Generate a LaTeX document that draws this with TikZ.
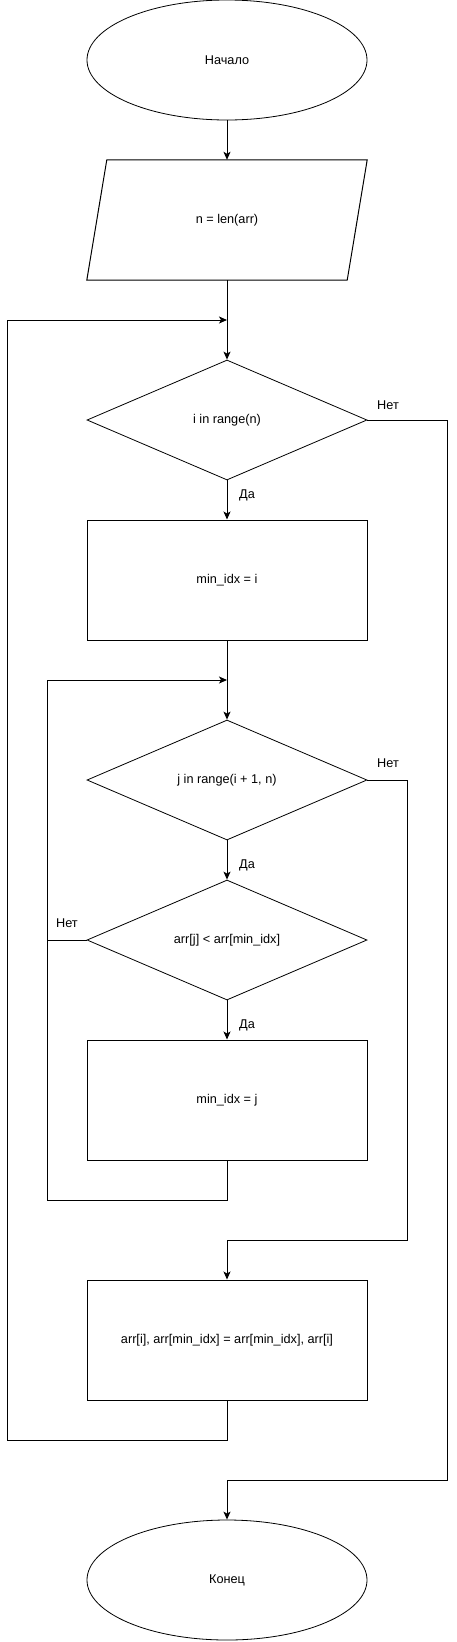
\documentclass[tikz,border=0pt]{standalone}
\usepackage{fontspec}
\setmainfont{Liberation Sans}
\usetikzlibrary{shapes.geometric,arrows.meta}
\begin{document}
\begin{tikzpicture}[x=1pt,y=-1pt,
  every node/.style={font=\fontsize{12.7pt}{14pt}\selectfont},
  term/.style={ellipse,draw,line width=0.8pt,minimum width=280,minimum height=120,inner sep=0},
  box/.style={rectangle,draw,line width=1pt,minimum width=280,minimum height=120,inner sep=0},
  iobox/.style={rectangle,draw=none,minimum width=280,minimum height=120,inner sep=0},
  cond/.style={diamond,draw,line width=0.8pt,minimum width=280,minimum height=120,inner sep=0},
  conn/.style={line width=1pt},
  arr/.style={conn,-{Stealth[length=8pt,width=7pt,inset=2pt]}},
  lbl/.style={inner sep=0}
]
\useasboundingbox (0,0) rectangle (457,1642);
\node[term] (start) at (227,60) {Начало};
\node[iobox] (io) at (227,220) {n = len(arr)};
\draw[line width=1pt] ([xshift=20]io.north west) -- (io.north east) -- ([xshift=-20]io.south east) -- (io.south west) -- cycle;
\node[cond] (d1) at (227,420) {i in range(n)};
\node[box] (r1) at (227,580) {min\_idx = i};
\node[cond] (d2) at (227,780) {j in range(i + 1, n)};
\node[cond] (d3) at (227,940) {arr[j] < arr[min\_idx]};
\node[box] (r2) at (227,1100) {min\_idx = j};
\node[box] (r3) at (227,1340) {arr[i], arr[min\_idx] = arr[min\_idx], arr[i]};
\node[term] (end) at (227,1580) {Конец};

\coordinate (j1) at (227,320);
\coordinate (j2) at (227,680);

\draw[arr] (start.south) -- (io.north);
\draw[arr] (io.south) -- (d1.north);
\draw[arr] (d1.south) -- (r1.north);
\node[lbl] (y1) at (247,495) {Да};
\draw[arr] (r1.south) -- (d2.north);
\draw[arr] (d2.south) -- (d3.north);
\node[lbl] (y2) at (247,865) {Да};
\draw[arr] (d3.south) -- (r2.north);
\node[lbl] (y3) at (247,1025) {Да};
% inner loop back
\draw[arr] (r2.south) -- (227,1200) -- (47,1200) -- (47,680) -- (j2);
\draw[conn] (d3.west) -- (47,940);
\node[lbl] (n3) at (67,923) {Нет};
% inner loop exit
\draw[arr] (d2.east) -- (407,780) -- (407,1240) -- (227,1240) -- (r3.north);
\node[lbl] (n2) at (388,763) {Нет};
% outer loop back
\draw[arr] (r3.south) -- (227,1440) -- (7,1440) -- (7,320) -- (j1);
% outer loop exit
\draw[arr] (d1.east) -- (447,420) -- (447,1480) -- (227,1480) -- (end.north);
\node[lbl] (n1) at (388,405) {Нет};
\end{tikzpicture}
\end{document}
